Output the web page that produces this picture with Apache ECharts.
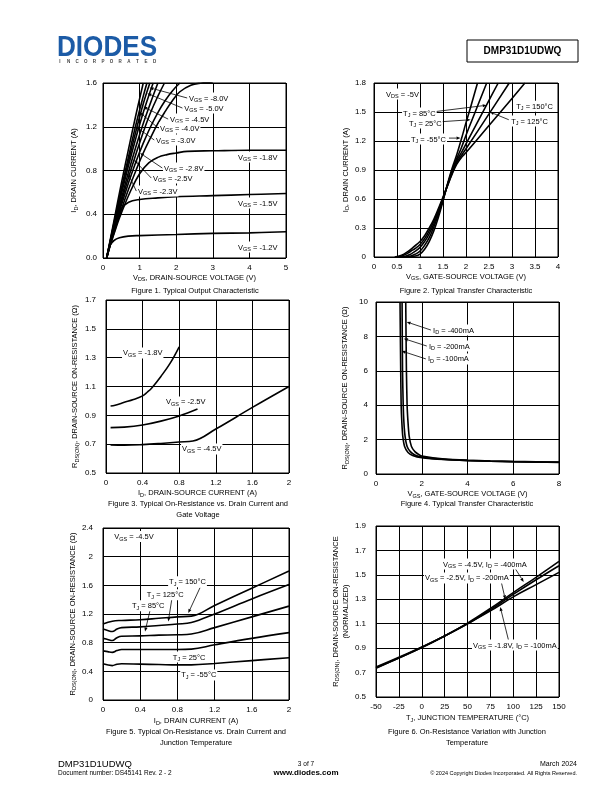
<!DOCTYPE html>
<html>
<head>
<meta charset="utf-8">
<script src="https://cdn.jsdelivr.net/npm/echarts@6/dist/echarts.min.js"></script>
<style>
  html, body { margin: 0; padding: 0; background: #fff; }
  #page { width: 612px; height: 792px; }
</style>
</head>
<body>
<div id="page"></div>
<script>
// ---- Figure 1: I_D vs V_DS, one curve per V_GS ----
const fig1Vgs80 = [[0.1,0],[0.3,0.34],[0.5,0.68],[0.7,1.0],[0.9,1.31],[1.1,1.6]];
const fig1Vgs50 = [[0.1,0],[0.3,0.32],[0.5,0.63],[0.7,0.93],[0.9,1.22],[1.1,1.48],[1.2,1.6]];
const fig1Vgs45 = [[0.1,0],[0.3,0.31],[0.5,0.61],[0.7,0.89],[0.9,1.16],[1.1,1.41],[1.28,1.6]];
const fig1Vgs40 = [[0.1,0],[0.3,0.3],[0.5,0.58],[0.7,0.85],[0.9,1.1],[1.1,1.33],[1.37,1.6]];
const fig1Vgs30 = [[0.1,0],[0.3,0.28],[0.5,0.54],[0.7,0.79],[0.9,1.02],[1.1,1.23],[1.3,1.42],[1.5,1.6]];
const fig1Vgs28 = [[0.1,0],[0.3,0.26],[0.5,0.51],[0.7,0.74],[0.9,0.95],[1.1,1.15],[1.3,1.33],[1.5,1.48],[1.68,1.6]];
const fig1Vgs25 = [[0.1,0],[0.3,0.25],[0.5,0.48],[0.7,0.69],[0.9,0.88],[1.1,1.05],[1.3,1.2],[1.5,1.33],[1.7,1.44],[1.9,1.53],[2.1,1.6]];
const fig1Vgs23 = [[0.1,0],[0.3,0.23],[0.5,0.44],[0.7,0.63],[0.9,0.8],[1.1,0.96],[1.3,1.1],[1.5,1.23],[1.7,1.34],[1.9,1.44],[2.1,1.52],[2.4,1.58],[2.7,1.6],[3.0,1.61]];
const fig1Vgs18 = [[0.1,0],[0.2,0.12],[0.3,0.22],[0.4,0.32],[0.5,0.41],[0.75,0.61],[1.0,0.77],[1.25,0.87],[1.5,0.92],[1.75,0.945],[2.0,0.96],[2.3,0.975],[3,0.98],[4,0.985],[5,0.985]];
const fig1Vgs15 = [[0.1,0],[0.15,0.08],[0.25,0.2],[0.35,0.32],[0.5,0.45],[0.7,0.51],[1.0,0.535],[1.5,0.55],[2,0.56],[3,0.57],[4,0.58],[5,0.59]];
const fig1Vgs12 = [[0.1,0],[0.13,0.05],[0.2,0.12],[0.3,0.16],[0.45,0.185],[0.7,0.2],[1,0.205],[2,0.215],[3,0.225],[4,0.23],[5,0.24]];

// ---- Figure 2: I_D vs V_GS at V_DS = -5V, one curve per T_J ----
const fig2TjM55 = [[0.75,0],[0.9,0.01],[1.0,0.03],[1.1,0.08],[1.2,0.16],[1.3,0.27],[1.4,0.41],[1.5,0.58],[1.6,0.76],[1.7,0.92],[1.8,1.06],[1.9,1.22],[2.0,1.39],[2.1,1.55],[2.25,1.8]];
const fig2Tj25 = [[0.65,0],[0.8,0.01],[0.9,0.03],[1.0,0.06],[1.1,0.12],[1.2,0.2],[1.3,0.31],[1.4,0.44],[1.5,0.59],[1.6,0.75],[1.7,0.9],[1.8,1.02],[1.9,1.13],[2.0,1.26],[2.2,1.5],[2.45,1.8]];
const fig2Tj85 = [[0.55,0],[0.7,0.01],[0.8,0.03],[0.9,0.06],[1.0,0.1],[1.1,0.16],[1.2,0.24],[1.3,0.34],[1.4,0.46],[1.5,0.6],[1.6,0.75],[1.7,0.89],[1.8,1.0],[1.9,1.08],[2.0,1.17],[2.5,1.62],[2.7,1.8]];
const fig2Tj125 = [[0.5,0],[0.6,0.01],[0.7,0.03],[0.8,0.06],[0.9,0.09],[1.0,0.13],[1.1,0.19],[1.2,0.27],[1.3,0.37],[1.4,0.48],[1.5,0.61],[1.6,0.74],[1.7,0.87],[1.8,0.98],[1.9,1.05],[2.0,1.12],[2.5,1.48],[2.94,1.8]];
const fig2Tj150 = [[0.45,0],[0.55,0.01],[0.65,0.03],[0.75,0.06],[0.85,0.1],[1.0,0.16],[1.1,0.22],[1.2,0.3],[1.3,0.39],[1.4,0.5],[1.5,0.62],[1.6,0.74],[1.7,0.86],[1.8,0.96],[1.9,1.03],[2.0,1.08],[2.5,1.36],[3.0,1.64],[3.28,1.8]];

// ---- Figure 3: R_DS(ON) vs I_D, one curve per V_GS ----
const fig3Vgs18 = [[0.05,0.965],[0.1,0.97],[0.2,0.99],[0.3,1.01],[0.4,1.035],[0.45,1.06],[0.5,1.09],[0.6,1.17],[0.7,1.26],[0.8,1.375]];
const fig3Vgs25 = [[0.05,0.815],[0.2,0.818],[0.4,0.833],[0.6,0.86],[0.8,0.896],[1.0,0.944]];
const fig3Vgs45 = [[0.05,0.695],[0.2,0.693],[0.4,0.697],[0.6,0.705],[0.8,0.715],[0.95,0.722],[1.2,0.805],[1.6,0.955],[2.0,1.1]];

// ---- Figure 4: R_DS(ON) vs V_GS, one curve per I_D ----
const fig4Id100 = [[1.05,10],[1.08,6],[1.1,4],[1.13,3],[1.17,2.2],[1.25,1.6],[1.4,1.25],[1.6,1.08],[2,0.95],[3,0.84],[4,0.78],[5,0.74],[6,0.71],[7,0.69],[8,0.67]];
const fig4Id200 = [[1.14,10],[1.16,6],[1.19,4],[1.22,3],[1.27,2.2],[1.36,1.6],[1.5,1.3],[1.7,1.1],[2,0.98],[3,0.85],[4,0.79],[5,0.75],[6,0.72],[7,0.7],[8,0.68]];
const fig4Id400 = [[1.3,10],[1.33,6],[1.36,4],[1.4,3],[1.45,2.2],[1.55,1.6],[1.7,1.3],[1.85,1.15],[2,1.05],[3,0.87],[4,0.8],[5,0.76],[6,0.73],[7,0.71],[8,0.69]];

// ---- Figure 5: R_DS(ON) vs I_D at V_GS = -4.5V, one curve per T_J ----
const fig5Tj150 = [[0,1.06],[0.1,1.1],[0.2,1.11],[0.4,1.12],[0.6,1.14],[0.8,1.16],[0.95,1.17],[1.2,1.32],[1.6,1.56],[2,1.8]];
const fig5Tj125 = [[0,0.99],[0.05,0.97],[0.1,0.955],[0.15,0.99],[0.2,1.01],[0.4,1.02],[0.6,1.04],[0.8,1.06],[0.95,1.08],[1.2,1.2],[1.6,1.41],[2,1.61]];
const fig5Tj85 = [[0,0.86],[0.05,0.845],[0.1,0.83],[0.15,0.87],[0.2,0.89],[0.4,0.895],[0.6,0.905],[0.8,0.91],[0.95,0.92],[1.2,1.01],[1.6,1.16],[2,1.31]];
const fig5Tj25 = [[0,0.685],[0.05,0.675],[0.1,0.665],[0.15,0.69],[0.2,0.705],[0.4,0.705],[0.6,0.705],[0.8,0.705],[0.95,0.71],[1.2,0.77],[1.6,0.86],[2,0.94]];
const fig5TjM55 = [[0,0.505],[0.1,0.48],[0.15,0.5],[0.2,0.505],[0.4,0.5],[0.6,0.495],[0.8,0.49],[0.95,0.49],[1.2,0.51],[1.6,0.55],[2,0.59]];

// ---- Figure 6: normalized R_DS(ON) vs T_J ----
const fig6Vgs45 = [[-50,0.74],[-25,0.82],[0,0.905],[25,1.0],[50,1.105],[75,1.225],[100,1.355],[125,1.48],[150,1.61]];
const fig6Vgs25 = [[-50,0.745],[-25,0.825],[0,0.91],[25,1.0],[50,1.1],[75,1.215],[100,1.34],[125,1.46],[150,1.575]];
const fig6Vgs18 = [[-50,0.735],[-25,0.82],[0,0.905],[25,1.0],[50,1.1],[75,1.205],[100,1.32],[125,1.42],[150,1.52]];

const FONT = '"Liberation Sans", Arial, sans-serif';
const SUB = { fontFamily: FONT, fontSize: 5.5, padding: [4, 0, 0, 0] };

const chart = echarts.init(document.getElementById('page'));

// plot boxes
const grids = [
  { left: 103, top: 83, width: 183, height: 175 },
  { left: 374, top: 83, width: 184, height: 174 },
  { left: 106, top: 300, width: 183, height: 173 },
  { left: 376, top: 302, width: 183, height: 172 },
  { left: 103, top: 528, width: 186, height: 172 },
  { left: 376, top: 526, width: 183, height: 171 }
].map(g => Object.assign({ show: true, borderColor: '#000', borderWidth: 1, backgroundColor: '#fff' }, g));

function axis(gi, min, max, step, name, gap, margin, fmt) {
  return {
    type: 'value', gridIndex: gi, min: min, max: max, interval: step,
    name: name, nameLocation: 'middle', nameGap: gap,
    nameTextStyle: { fontFamily: FONT, fontSize: 7.5, color: '#000', lineHeight: 10, rich: { s: SUB } },
    axisLine: { show: false }, axisTick: { show: false },
    axisLabel: { fontFamily: FONT, fontSize: 8, color: '#000', margin: margin, formatter: fmt },
    splitLine: { show: true, lineStyle: { color: '#000', width: 1 } }
  };
}
const oneDec = v => v.toFixed(1);

const xAxes = [
  axis(0, 0, 5, 1, 'V{s|DS}, DRAIN-SOURCE VOLTAGE (V)', 14, 6),
  axis(1, 0, 4, 0.5, 'V{s|GS}, GATE-SOURCE VOLTAGE (V)', 14, 6),
  axis(2, 0, 2, 0.4, 'I{s|D}, DRAIN-SOURCE CURRENT (A)', 15, 6),
  axis(3, 0, 8, 2, 'V{s|GS}, GATE-SOURCE VOLTAGE (V)', 15, 6),
  axis(4, 0, 2, 0.4, 'I{s|D}, DRAIN CURRENT (A)', 16, 6),
  axis(5, -50, 150, 25, 'T{s|J}, JUNCTION TEMPERATURE (°C)', 16, 6)
];
const yAxes = [
  axis(0, 0, 1.6, 0.4, 'I{s|D}, DRAIN CURRENT (A)', 24, 6, oneDec),
  axis(1, 0, 1.8, 0.3, 'I{s|D}, DRAIN CURRENT (A)', 23, 8),
  axis(2, 0.5, 1.7, 0.2, 'R{s|DS(ON)}, DRAIN-SOURCE ON-RESISTANCE (Ω)', 26, 10, oneDec),
  axis(3, 0, 10, 2, 'R{s|DS(ON)}, DRAIN-SOURCE ON-RESISTANCE (Ω)', 26, 8),
  axis(4, 0, 2.4, 0.4, 'R{s|DS(ON)}, DRAIN-SOURCE ON-RESISTANCE (Ω)', 23, 10),
  axis(5, 0.5, 1.9, 0.2, 'R{s|DS(ON)}, DRAIN-SOURCE ON-RESISTANCE\n(NORMALIZED)', 24, 10, oneDec)
];

const curves = [
  [fig1Vgs80, fig1Vgs50, fig1Vgs45, fig1Vgs40, fig1Vgs30, fig1Vgs28, fig1Vgs25, fig1Vgs23, fig1Vgs18, fig1Vgs15, fig1Vgs12],
  [fig2TjM55, fig2Tj25, fig2Tj85, fig2Tj125, fig2Tj150],
  [fig3Vgs18, fig3Vgs25, fig3Vgs45],
  [fig4Id100, fig4Id200, fig4Id400],
  [fig5Tj150, fig5Tj125, fig5Tj85, fig5Tj25, fig5TjM55],
  [fig6Vgs45, fig6Vgs25, fig6Vgs18]
];
const series = [];
curves.forEach((list, gi) => list.forEach(d => series.push({
  type: 'line', xAxisIndex: gi, yAxisIndex: gi, data: d,
  showSymbol: false, symbol: 'none', smooth: gi === 3 ? 0.2 : 0.4,
  lineStyle: { color: '#000', width: 1.6 }, silent: true, z: 3
})));

chart.setOption({ animation: false, grid: grids, xAxis: xAxes, yAxis: yAxes, series: series });

// ---- annotations: [grid, text, label pos, arrow from, arrow to] (data coords) ----
const notes = [
  [0, 'V{s|GS} = -8.0V', [2.32, 1.463], [2.3, 1.463], [1.27, 1.557]],
  [0, 'V{s|GS} = -5.0V', [2.19, 1.371], [2.17, 1.371], [1.21, 1.505]],
  [0, 'V{s|GS} = -4.5V', [1.80, 1.27], [1.78, 1.27], [1.10, 1.383]],
  [0, 'V{s|GS} = -4.0V', [1.53, 1.188], [1.51, 1.188], [1.01, 1.33]],
  [0, 'V{s|GS} = -3.0V', [1.42, 1.079], [1.40, 1.079], [0.90, 1.2]],
  [0, 'V{s|GS} = -2.8V', [1.64, 0.823], [1.62, 0.823], [1.01, 0.96]],
  [0, 'V{s|GS} = -2.5V', [1.34, 0.731], [1.32, 0.731], [0.85, 0.895]],
  [0, 'V{s|GS} = -2.3V', [0.93, 0.612], [0.91, 0.612], [0.69, 0.77]],
  [0, 'V{s|GS} = -1.8V', [3.66, 0.923]],
  [0, 'V{s|GS} = -1.5V', [3.66, 0.503]],
  [0, 'V{s|GS} = -1.2V', [3.66, 0.10]],
  [1, 'V{s|DS} = -5V', [0.24, 1.686]],
  [1, 'T{s|J} = 85°C', [0.61, 1.489], [1.26, 1.50], [2.45, 1.57]],
  [1, 'T{s|J} = 25°C', [0.74, 1.386], [1.48, 1.40], [2.10, 1.42]],
  [1, 'T{s|J} = -55°C', [0.78, 1.22], [1.63, 1.23], [1.88, 1.23]],
  [1, 'T{s|J} = 150°C', [3.07, 1.56]],
  [1, 'T{s|J} = 125°C', [2.96, 1.406], [2.93, 1.42], [2.52, 1.5]],
  [2, 'V{s|GS} = -1.8V', [0.175, 1.333]],
  [2, 'V{s|GS} = -2.5V', [0.645, 0.993]],
  [2, 'V{s|GS} = -4.5V', [0.82, 0.667]],
  [3, 'I{s|D} = -400mA', [2.45, 8.37], [2.40, 8.37], [1.34, 8.84]],
  [3, 'I{s|D} = -200mA', [2.27, 7.44], [2.22, 7.44], [1.22, 7.87]],
  [3, 'I{s|D} = -100mA', [2.23, 6.69], [2.18, 6.69], [1.12, 7.15]],
  [4, 'V{s|GS} = -4.5V', [0.11, 2.28]],
  [4, 'T{s|J} = 150°C', [0.70, 1.65], [1.043, 1.566], [0.917, 1.213]],
  [4, 'T{s|J} = 125°C', [0.46, 1.47], [0.739, 1.399], [0.702, 1.095]],
  [4, 'T{s|J} = 85°C', [0.30, 1.315], [0.505, 1.245], [0.452, 0.955]],
  [4, 'T{s|J} = 25°C', [0.74, 0.60]],
  [4, 'T{s|J} = -55°C', [0.83, 0.35]],
  [5, 'V{s|GS} = -4.5V, I{s|D} = -400mA', [22.1, 1.589], [102.2, 1.551], [111.4, 1.442]],
  [5, 'V{s|GS} = -2.5V, I{s|D} = -200mA', [2.5, 1.475], [86.9, 1.442], [91.3, 1.30]],
  [5, 'V{s|GS} = -1.8V, I{s|D} = -100mA', [54.9, 0.926], [95, 0.959], [85.8, 1.237]]
];

const px = (gi, p) => chart.convertToPixel({ gridIndex: gi }, p);

function arrow(p0, p1) {
  const dx = p1[0] - p0[0], dy = p1[1] - p0[1];
  const L = Math.hypot(dx, dy) || 1, ux = dx / L, uy = dy / L;
  const len = 4, w = 1.6;
  const bx = p1[0] - ux * len, by = p1[1] - uy * len;
  return [
    { type: 'line', silent: true, z: 50, shape: { x1: p0[0], y1: p0[1], x2: bx, y2: by }, style: { stroke: '#000', lineWidth: 0.8 } },
    { type: 'polygon', silent: true, z: 50, shape: { points: [[p1[0], p1[1]], [bx - uy * w, by + ux * w], [bx + uy * w, by - ux * w]] }, style: { fill: '#000' } }
  ];
}

function txt(x, y, text, opt) {
  return {
    type: 'text', x: x, y: y, silent: true, z: 60,
    style: Object.assign({ text: text, fontFamily: FONT, fontSize: 7.5, fill: '#000', align: 'center', verticalAlign: 'middle' }, opt || {})
  };
}

const graphics = [];
notes.forEach(n => {
  const p = px(n[0], n[2]);
  graphics.push(txt(p[0], p[1], n[1], { align: 'left', rich: { s: SUB }, backgroundColor: '#fff', padding: [1, 1, 0, 1] }));
  if (n[3]) graphics.push(...arrow(px(n[0], n[3]), px(n[0], n[4])));
});

// figure captions
[
  [195, 291, 'Figure 1. Typical Output Characteristic'],
  [466, 291, 'Figure 2. Typical Transfer Characteristic'],
  [198, 504, 'Figure 3. Typical On-Resistance vs. Drain Current and'],
  [198, 515, 'Gate Voltage'],
  [467, 504, 'Figure 4. Typical Transfer Characteristic'],
  [196, 732, 'Figure 5. Typical On-Resistance vs. Drain Current and'],
  [196, 743, 'Junction Temperature'],
  [467, 732, 'Figure 6. On-Resistance Variation with Junction'],
  [467, 743, 'Temperature']
].forEach(c => graphics.push(txt(c[0], c[1], c[2])));

// header: logo and part number box
graphics.push({
  type: 'text', x: 57, y: 48, scaleX: 0.87, silent: true,
  style: { text: 'DIODES', fontFamily: FONT, fontSize: 30, fontWeight: 'bold', fill: '#1c5ba6', align: 'left', verticalAlign: 'middle' }
});
'INCORPORATED'.split('').forEach((ch, i) => graphics.push(txt(60 + i * 8.6, 62, ch, { fontSize: 4.5, fill: '#444', fontWeight: 'bold' })));
graphics.push({ type: 'rect', silent: true, shape: { x: 467, y: 40, width: 111, height: 22 }, style: { fill: 'none', stroke: '#000', lineWidth: 1 } });
graphics.push(txt(522.5, 51.5, 'DMP31D1UDWQ', { fontSize: 10, fontWeight: 'bold' }));

// footer
graphics.push(txt(58, 764, 'DMP31D1UDWQ', { align: 'left', fontSize: 9.5 }));
graphics.push(txt(58, 773, 'Document number: DS45141 Rev. 2 - 2', { align: 'left', fontSize: 6.5 }));
graphics.push(txt(306, 764, '3 of 7', { fontSize: 6.5 }));
graphics.push(txt(306, 773, 'www.diodes.com', { fontSize: 8, fontWeight: 'bold' }));
graphics.push(txt(577, 764, 'March 2024', { align: 'right', fontSize: 7 }));
graphics.push(txt(577, 773, '© 2024 Copyright Diodes Incorporated. All Rights Reserved.', { align: 'right', fontSize: 5.5 }));

chart.setOption({ graphic: graphics });
</script>
</body>
</html>
